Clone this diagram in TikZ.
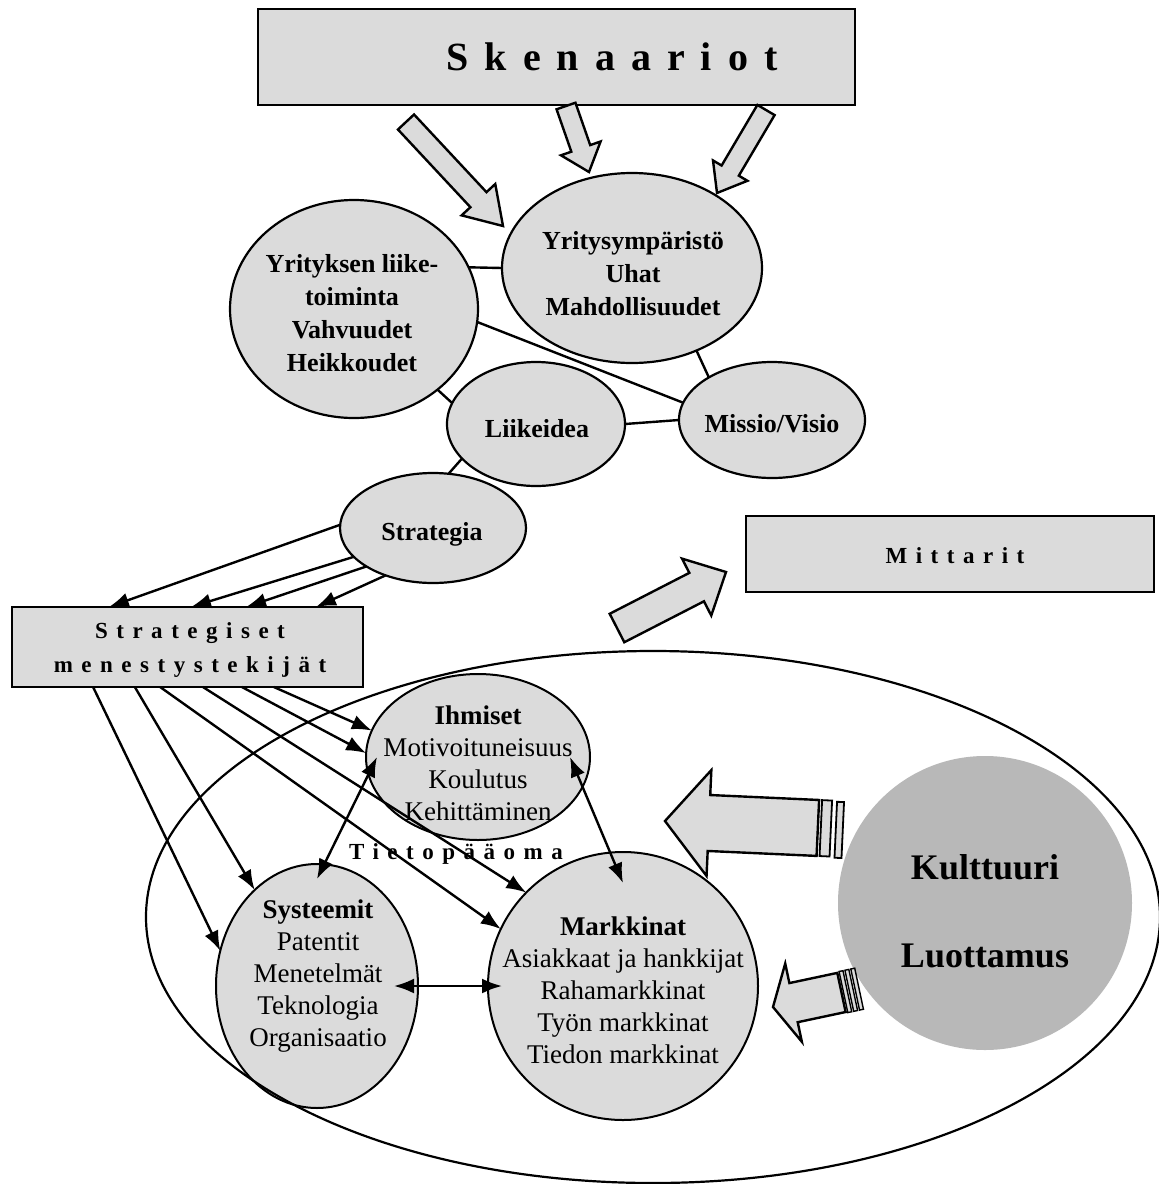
\documentclass[tikz,border=0pt]{standalone}
\usepackage{fontspec}
\setmainfont{Liberation Serif}
\newfontfamily\trackedfont[LetterSpace=37]{Liberation Serif}
\newfontfamily\widetrackedfont[LetterSpace=40]{Liberation Serif}
\usetikzlibrary{calc,shapes.geometric,arrows.meta}
\definecolor{stipple}{gray}{0.86}
\definecolor{stippledark}{gray}{0.72}

% hollow block arrow: tail, tip, shaft half-width, head half-width, head length
\newcommand{\fatarrow}[5]{%
  \coordinate (fa-base) at ($(#2)!#5!(#1)$);
  \filldraw[blockarrow]
    ($(#1)!#3!90:(#2)$) -- ($(fa-base)!#3!90:(#2)$) -- ($(fa-base)!#4!90:(#2)$)
    -- (#2) -- ($(fa-base)!#4!-90:(#2)$) -- ($(fa-base)!#3!-90:(#2)$)
    -- ($(#1)!#3!-90:(#2)$) -- cycle;}

\begin{document}
\begin{tikzpicture}[x=1pt,y=-1pt,
  every node/.style={inner sep=0pt,outer sep=0pt},
  oval/.style={shape=ellipse,draw,line width=2.2pt,fill=stipple},
  panel/.style={shape=rectangle,draw,line width=2.6pt,fill=stipple},
  link/.style={line width=2.4pt},
  feed/.style={line width=2.4pt,-{Latex[length=20pt,width=15pt]}},
  mutual/.style={line width=2.4pt,{Latex[length=20pt,width=15pt]}-{Latex[length=20pt,width=15pt]}},
  blockarrow/.style={draw,line width=2.4pt,fill=stipple,line join=miter},
  boldtext/.style={align=center,font=\bfseries\fontsize{26}{33}\selectfont},
  plaintext/.style={align=center,font=\fontsize{27}{32}\selectfont},
  tracked/.style={align=center,font=\trackedfont\bfseries\fontsize{23}{34}\selectfont}]

\useasboundingbox (0,0) rectangle (1159,1184);
\fill[white] (0,0) rectangle (1159,1184);

% headline boxes
\node[panel,minimum width=597pt,minimum height=96pt] (sk) at (556.5,57) {};
\node[font=\widetrackedfont\bfseries\fontsize{40}{48}\selectfont] (skt) at (612,57) {Skenaariot};

\node[panel,minimum width=351pt,minimum height=80pt] (sm) at (187.5,647) {};
\node[tracked] (smt) at (190,650) {Strategiset\\menestystekijät};

\node[panel,minimum width=408pt,minimum height=76pt] (mi) at (950,554) {};
\node[tracked] (mit) at (955,556) {Mittarit};

% strategy ovals
\node[oval,minimum width=248pt,minimum height=218pt] (yl) at (354,309) {};
\node[oval,minimum width=260pt,minimum height=190pt] (ye) at (632,268) {};
\node[oval,minimum width=178pt,minimum height=124pt] (li) at (536,424) {};
\node[oval,minimum width=186pt,minimum height=116pt] (mv) at (772,420) {};
\node[oval,minimum width=186pt,minimum height=110pt] (st) at (433,528) {};

\node[boldtext] (ylt) at (352,313) {Yrityksen liike-\\toiminta\\Vahvuudet\\Heikkoudet};
\node[boldtext] (yet) at (633,274) {Yritysympäristö\\Uhat\\Mahdollisuudet};
\node[boldtext] (lit) at (537,429) {Liikeidea};
\node[boldtext] (mvt) at (772,424) {Missio/Visio};
\node[boldtext] (stt) at (432,534) {Strategia};

% links between the strategy ovals
\draw[link] (yl.20) -- (ye.west);
\draw[link] (yl.-6) -- (mv.169);
\draw[link] (ye.-52) -- (mv.146);
\draw[link] (yl.-44) -- (li.166);
\draw[link] (li.east) -- (mv.west);
\draw[link] (li.-155) -- (st.74);

% intellectual capital
\node[oval,line width=2pt,minimum width=224pt,minimum height=166pt] (ih) at (478,757) {};
\node[oval,line width=2pt,minimum width=202pt,minimum height=244pt] (sy) at (317,986) {};
\node[oval,line width=2pt,minimum width=270pt,minimum height=268pt] (mk) at (623,986) {};
\node[circle,fill=stippledark,minimum size=294pt] (ku) at (985,903) {};

\node[plaintext] (iht) at (478,763) {\textbf{Ihmiset}\\Motivoituneisuus\\Koulutus\\Kehittäminen};
\node[plaintext] (syt) at (318,976) {\textbf{Systeemit}\\Patentit\\Menetelmät\\Teknologia\\Organisaatio};
\node[plaintext] (mkt) at (623,990) {\textbf{Markkinat}\\Asiakkaat ja hankkijat\\Rahamarkkinat\\Työn markkinat\\Tiedon markkinat};
\node[align=center,font=\bfseries\fontsize{36}{88}\selectfont] (kut) at (985,911) {Kulttuuri\\Luottamus};
\node[tracked] (tpt) at (456,854) {Tietopääoma};

\node[ellipse,draw,line width=2.2pt,minimum width=1014pt,minimum height=532pt] (tp) at (653,917) {};

% strategy feeds the success factors
\draw[feed] (st.178) -- ($(sm.north west)!0.276!(sm.north east)$);
\draw[feed] (st.-160) -- ($(sm.north west)!0.510!(sm.north east)$);
\draw[feed] (st.-150) -- ($(sm.north west)!0.667!(sm.north east)$);
\draw[feed] (st.-135) -- ($(sm.north west)!0.866!(sm.north east)$);

% success factors point into the capital ovals
\draw[feed] ($(sm.south west)!0.231!(sm.south east)$) -- (sy.160);
\draw[feed] ($(sm.south west)!0.350!(sm.south east)$) -- (sy.123);
\draw[feed] ($(sm.south west)!0.422!(sm.south east)$) -- (mk.155);
\draw[feed] ($(sm.south west)!0.544!(sm.south east)$) -- (mk.136);
\draw[feed] ($(sm.south west)!0.655!(sm.south east)$) -- (ih.178);
\draw[feed] ($(sm.south west)!0.746!(sm.south east)$) -- (ih.166);

% mutual links inside the capital
\draw[mutual] ([xshift=11pt]ih.west) -- ([yshift=-15pt]sy.north);
\draw[mutual] ([xshift=-20pt]ih.east) -- ([yshift=-31pt]mk.north);
\draw[mutual] ([xshift=-24pt]sy.east) -- ([xshift=14pt]mk.west);

% scenario arrows
\coordinate (a1t) at (406,122); \coordinate (a1h) at (503,226);
\coordinate (a2t) at (566,106); \coordinate (a2h) at (589,172);
\coordinate (a3t) at (766,110); \coordinate (a3h) at (717,193);
\fatarrow{a1t}{a1h}{11pt}{23pt}{36pt}
\fatarrow{a2t}{a2h}{10pt}{21pt}{25pt}
\fatarrow{a3t}{a3h}{10pt}{20pt}{26pt}

% arrow towards the measures
\coordinate (a4t) at (617,628); \coordinate (a4h) at (726,572);
\fatarrow{a4t}{a4h}{16pt}{32pt}{33pt}

% striped arrows from culture and trust
\begin{scope}[shift={(665,821)},rotate=-2.6]
  \filldraw[blockarrow] (0,0) -- (44,-53) -- (44,-28) -- (153,-28) -- (153,28) -- (44,28) -- (44,53) -- cycle;
  \filldraw[blockarrow,line width=1.8pt] (156,-28) rectangle (166,28);
  \filldraw[blockarrow,line width=1.8pt] (171,-27) rectangle (178,29);
\end{scope}
\begin{scope}[shift={(773,1007)},rotate=12]
  \filldraw[blockarrow] (0,0) -- (21,-40) -- (21,-20) -- (70,-20) -- (70,20) -- (21,20) -- (21,40) -- cycle;
  \filldraw[blockarrow,line width=1.4pt] (72,-21) rectangle (76,21);
  \filldraw[blockarrow,line width=1.4pt] (78,-21) rectangle (82,21);
  \filldraw[blockarrow,line width=1.4pt] (84,-21) rectangle (88,21);
\end{scope}
\end{tikzpicture}
\end{document}
